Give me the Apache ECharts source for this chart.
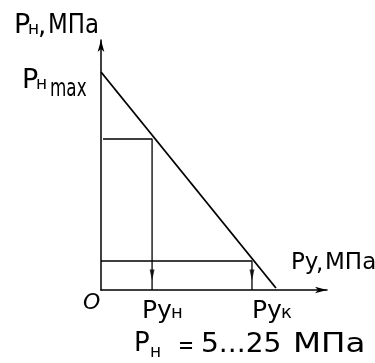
<!DOCTYPE html>
<html>
<head>
<meta charset="utf-8">
<script src="https://cdn.jsdelivr.net/npm/echarts@6/dist/echarts.min.js"></script>
<style>html,body{margin:0;padding:0;background:#fff}#c{width:375px;height:363px}</style>
</head>
<body>
<div id="c"></div>
<script>
// Data (arbitrary schematic units, axes 0..100)
const pressureLineX = [0, 77.4];
const pressureLineY = [87.2, 0.8];
const startLevel = 60.4;   // Pн level reaching Pун
const startX = 22.6;       // Pун
const endLevel = 11.6;     // level reaching Pук
const endX = 66.8;         // Pук
const arrowY = 6;

const chart = echarts.init(document.getElementById('c'), null, {renderer: 'canvas'});
const FONT = '"DejaVu Sans", sans-serif';
function t(text, x, baseline, size, opts) {
  opts = opts || {};
  return {
    type: 'text', x: x, y: baseline - 0.346 * size,
    scaleX: opts.sx || 1, scaleY: 1,
    style: {
      text: text, x: 0, y: 0,
      font: (opts.italic ? 'italic ' : '') + size + 'px ' + FONT,
      fill: '#000', align: 'left', verticalAlign: 'middle'
    },
    z: 100
  };
}
const axisCommon = {
  type: 'value', min: 0, max: 100,
  axisLine: {show: true, lineStyle: {color: '#000', width: 1.5}, symbol: ['none', 'arrow'], symbolSize: [5, 12], symbolOffset: [0, 0]},
  axisTick: {show: false}, axisLabel: {show: false}, splitLine: {show: false}
};
const option = {
  backgroundColor: '#fff',
  animation: false,
  grid: {left: 101, right: 48, top: 40, bottom: 73, containLabel: false},
  xAxis: Object.assign({}, axisCommon),
  yAxis: Object.assign({}, axisCommon),
  series: [
    {type: 'line', data: pressureLineX.map((x, i) => [x, pressureLineY[i]]), symbol: 'none',
     lineStyle: {color: '#000', width: 1.8}},
    {type: 'line', data: [[0.9, startLevel], [startX, startLevel], [startX, 0]], symbol: 'none',
     lineStyle: {color: '#000', width: 1.3}},
    {type: 'line', data: [[0, endLevel], [endX, endLevel], [endX, 0]], symbol: 'none',
     lineStyle: {color: '#000', width: 1.3}},
    {type: 'scatter', data: [[startX, arrowY], [endX, arrowY]], symbol: 'triangle', symbolRotate: 180,
     symbolSize: [5, 11], itemStyle: {color: '#000'}}
  ],
  graphic: [
    t('Р', 14, 35, 27), t('н', 28, 35, 17), t(',', 38, 36, 26), t('МПа', 48, 35, 26, {sx: 0.88}),
    t('Р', 22, 90, 27), t('н', 36, 90, 17), t('max', 50, 98, 24, {sx: 0.7}),
    t('Ру', 291, 271, 23), t(',', 316, 272, 23), t('МПа', 325, 271, 23),
    t('O', 83, 311, 22, {italic: true}),
    t('Ру', 142, 320, 25), t('н', 171, 320, 18),
    t('Ру', 252, 320, 25), t('к', 281, 320, 18),
    t('Р', 134, 353, 26), t('н', 150, 358, 17), t('=', 178, 355, 24, {sx: 0.8}),
    t('5...25', 201, 354, 26, {sx: 1.08}), t('МПа', 293, 354, 26, {sx: 1.25})
  ]
};
chart.setOption(option);
</script>
</body>
</html>
